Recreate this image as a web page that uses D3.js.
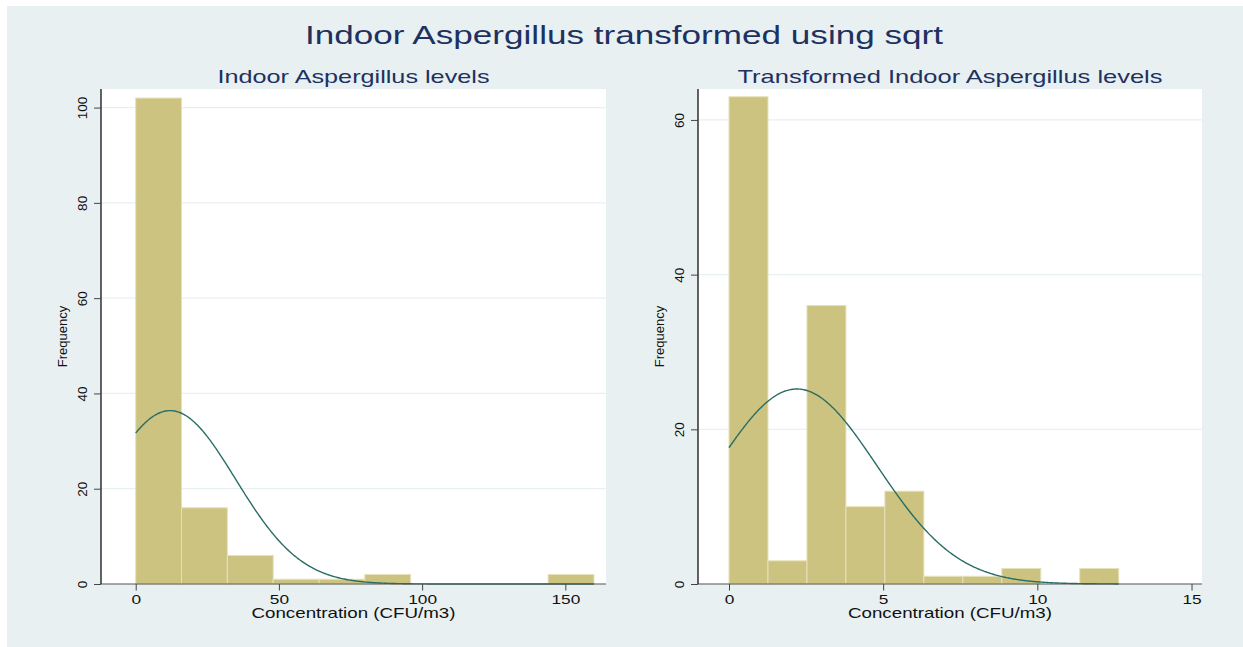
<!DOCTYPE html>
<html>
<head>
<meta charset="utf-8">
<script src="https://cdn.jsdelivr.net/npm/d3@7"></script>
<style>
  html, body { margin: 0; padding: 0; background: #ffffff; }
  svg { display: block; font-family: "Liberation Sans", Arial, Helvetica, sans-serif; }
</style>
</head>
<body>
<svg id="chart" width="1243" height="647"></svg>
<script>
// Histogram counts per bin (10 equal-width bins starting at 0)
const rawCounts  = [102, 16, 6, 1, 1, 2, 0, 0, 0, 2];
const sqrtCounts = [63, 3, 36, 10, 12, 1, 1, 2, 0, 2];

// Bin widths
const rawBinWidth  = 16;
const sqrtBinWidth = 1.264;

// Normal density overlay parameters (sample mean / sd)
const rawMean = 12,  rawSD = 22.8;
const sqrtMean = 2.2, sqrtSD = 2.6;

// Tick values
const rawXTicks  = [0, 50, 100, 150];
const rawYTicks  = [0, 20, 40, 60, 80, 100];
const sqrtXTicks = [0, 5, 10, 15];
const sqrtYTicks = [0, 20, 40, 60];

// Titles
const mainTitle = "Indoor Aspergillus transformed using sqrt";
const rawTitle  = "Indoor Aspergillus levels";
const sqrtTitle = "Transformed Indoor Aspergillus levels";
const xLabel = "Concentration (CFU/m3)";
const yLabel = "Frequency";

const COLORS = {
  bg: "#e8f0f2",
  plot: "#ffffff",
  grid: "#e8f0f2",
  bar: "#cbc37f",
  barEdge: "#e6e1bc",
  curve: "#2a6d66",
  title: "#1e3160",
  text: "#111111"
};

const svg = d3.select("#chart");

svg.append("rect")
  .attr("x", 7).attr("y", 6)
  .attr("width", 1243 - 7).attr("height", 647 - 6)
  .attr("fill", COLORS.bg);

svg.append("text")
  .attr("x", 305).attr("y", 43.5)
  .attr("font-size", 26)
  .attr("textLength", 638)
  .attr("lengthAdjust", "spacingAndGlyphs")
  .attr("fill", COLORS.title)
  .text(mainTitle);

function drawPanel(p) {
  const x = d3.scaleLinear().domain(p.xDomain).range([p.left, p.right]);
  const y = d3.scaleLinear().domain(p.yDomain).range([p.bottom, p.top]);
  const g = svg.append("g");

  // plot region
  g.append("rect")
    .attr("x", p.left).attr("y", p.top)
    .attr("width", p.right - p.left).attr("height", p.bottom - p.top)
    .attr("fill", COLORS.plot);

  // horizontal grid lines
  g.append("g").selectAll("line")
    .data(p.yTicks.filter(v => v > 0))
    .join("line")
    .attr("x1", p.left).attr("x2", p.right)
    .attr("y1", d => y(d)).attr("y2", d => y(d))
    .attr("stroke", COLORS.grid).attr("stroke-width", 1.2);

  // bars
  const bins = p.counts.map((c, i) => ({
    x0: p.binStart + i * p.binWidth,
    x1: p.binStart + (i + 1) * p.binWidth,
    n: c
  })).filter(b => b.n > 0);

  g.append("g").selectAll("rect")
    .data(bins)
    .join("rect")
    .attr("x", d => x(d.x0))
    .attr("width", d => x(d.x1) - x(d.x0))
    .attr("y", d => y(d.n))
    .attr("height", d => y(0) - y(d.n))
    .attr("fill", COLORS.bar)
    .attr("stroke", COLORS.barEdge)
    .attr("stroke-width", 1);

  // normal density scaled to frequency
  const total = d3.sum(p.counts);
  const lo = p.binStart, hi = p.binStart + p.counts.length * p.binWidth;
  const pts = d3.range(0, 401).map(i => {
    const v = lo + (hi - lo) * i / 400;
    const z = (v - p.mean) / p.sd;
    return [v, total * p.binWidth * Math.exp(-0.5 * z * z) / (p.sd * Math.sqrt(2 * Math.PI))];
  });
  g.append("path")
    .datum(pts)
    .attr("fill", "none")
    .attr("stroke", COLORS.curve)
    .attr("stroke-width", 1.4)
    .attr("d", d3.line().x(d => x(d[0])).y(d => y(d[1])));

  // x axis
  const xAxis = g.append("g")
    .attr("transform", `translate(0,${p.bottom})`)
    .call(d3.axisBottom(x).tickValues(p.xTicks).tickSize(6.5).tickSizeOuter(0));
  xAxis.select(".domain").attr("stroke", "#555").attr("stroke-width", 1.2)
    .attr("d", `M${p.left},0H${p.right}`);
  xAxis.selectAll(".tick line").attr("stroke", "#444");
  xAxis.selectAll(".tick text")
    .attr("y", 20.5).attr("dy", 0)
    .attr("font-size", 13.5)
    .attr("fill", COLORS.text)
    .attr("transform", "scale(1.28,1)");

  // y axis with labels rotated to read upward
  const yAxis = g.append("g")
    .attr("transform", `translate(${p.left},0)`)
    .call(d3.axisLeft(y).tickValues(p.yTicks).tickSize(7).tickSizeOuter(0));
  yAxis.select(".domain").attr("stroke", "#111").attr("stroke-width", 1.3)
    .attr("d", `M0,${p.top}V${p.bottom}`);
  yAxis.selectAll(".tick line").attr("stroke", "#444");
  yAxis.selectAll(".tick text")
    .attr("x", 0).attr("dy", "0.35em")
    .attr("text-anchor", "middle")
    .attr("font-size", 13.5)
    .attr("fill", COLORS.text)
    .attr("transform", "translate(-19,0) rotate(-90)");

  // panel title
  g.append("text")
    .attr("x", (p.left + p.right) / 2).attr("y", 83)
    .attr("text-anchor", "middle")
    .attr("font-size", 19)
    .attr("textLength", p.titleWidth)
    .attr("lengthAdjust", "spacingAndGlyphs")
    .attr("fill", COLORS.title)
    .text(p.title);

  // axis titles
  g.append("text")
    .attr("x", (p.left + p.right) / 2).attr("y", 618)
    .attr("text-anchor", "middle")
    .attr("font-size", 14.5)
    .attr("textLength", 204)
    .attr("lengthAdjust", "spacingAndGlyphs")
    .attr("fill", COLORS.text)
    .text(xLabel);

  g.append("text")
    .attr("transform", `translate(${p.left - 38.8},${(p.top + p.bottom) / 2}) rotate(-90)`)
    .attr("text-anchor", "middle")
    .attr("dy", "0.35em")
    .attr("font-size", 13)
    .attr("fill", COLORS.text)
    .text(yLabel);
}

drawPanel({
  left: 101, right: 606, top: 89, bottom: 584,
  xDomain: [-12.12, 164.2], yDomain: [0, 103.9],
  counts: rawCounts, binStart: 0, binWidth: rawBinWidth,
  mean: rawMean, sd: rawSD,
  xTicks: rawXTicks, yTicks: rawYTicks,
  title: rawTitle, titleWidth: 272
});

drawPanel({
  left: 698, right: 1202, top: 89, bottom: 584,
  xDomain: [-1.005, 15.34], yDomain: [0, 64.0],
  counts: sqrtCounts, binStart: 0, binWidth: sqrtBinWidth,
  mean: sqrtMean, sd: sqrtSD,
  xTicks: sqrtXTicks, yTicks: sqrtYTicks,
  title: sqrtTitle, titleWidth: 425
});
</script>
</body>
</html>
